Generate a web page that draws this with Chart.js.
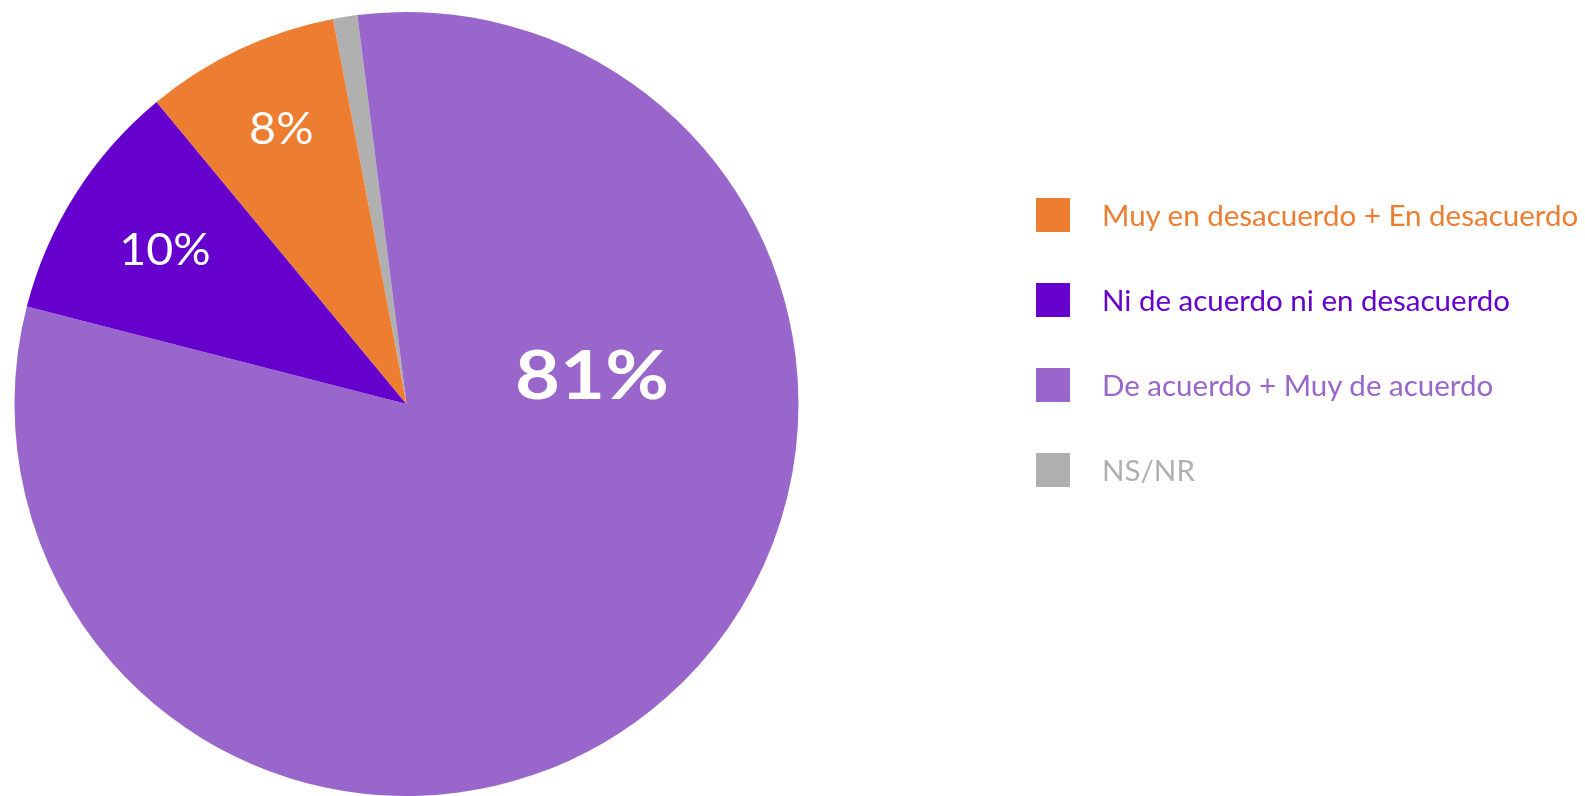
<!DOCTYPE html>
<html>
<head>
<meta charset="utf-8">
<script src="https://cdn.jsdelivr.net/npm/chart.js@4/dist/chart.umd.min.js"></script>
<style>
	html, body { margin: 0; padding: 0; background: #fff; }
	#wrap { position: relative; width: 1585px; height: 796px; }
	#legend { position: absolute; left: 1036px; top: 197px; font-family: Lato, sans-serif; font-size: 29.5px; }
	#legend div { display: flex; align-items: center; height: 35px; margin-bottom: 50px; white-space: nowrap; }
	#legend span.box { display: inline-block; width: 34px; height: 34px; margin-right: 32px; }
</style>
</head>
<body>
<div id="wrap">
	<canvas id="myChart" width="1585" height="796"></canvas>
	<div id="legend"></div>
</div>
<script>
// legend order (the pie runs the other way round)
var categories = ['Muy en desacuerdo + En desacuerdo', 'Ni de acuerdo ni en desacuerdo', 'De acuerdo + Muy de acuerdo', 'NS/NR'];
var values = [8, 10, 81, 1];
var pctLabels = ['8%', '10%', '81%', ''];
var colors = ['#ED7D31', '#6600CC', '#9966CC', '#B0B0B0'];

// where each label sits: angle offset from slice middle (deg), fraction of radius, font, horizontal stretch
var labelPos = [
	{ da: 0.7, r: 0.77, font: '44px Lato', sx: 1.06 },
	{ da: 0, r: 0.73, font: '44px Lato', sx: 1.06 },
	{ da: -56.8, r: 0.478, font: 'bold 67px Lato', sx: 1.16 },
	null
];

// html legend
var leg = document.getElementById('legend');
for (var i = 0; i < categories.length; i++) {
	var row = document.createElement('div');
	row.style.color = colors[i];
	row.innerHTML = '<span class="box" style="background:' + colors[i] + '"></span>' + categories[i];
	leg.appendChild(row);
}

var sliceLabels = {
	id: 'sliceLabels',
	afterDatasetsDraw: function (chart) {
		var ctx = chart.ctx;
		var meta = chart.getDatasetMeta(0);
		var n = values.length;
		meta.data.forEach(function (arc, j) {
			var k = n - 1 - j; // back to legend order
			var p = labelPos[k];
			if (!p || !pctLabels[k]) return;
			var mid = (arc.startAngle + arc.endAngle) / 2 + p.da * Math.PI / 180;
			var x = arc.x + Math.cos(mid) * arc.outerRadius * p.r;
			var y = arc.y + Math.sin(mid) * arc.outerRadius * p.r;
			ctx.save();
			ctx.translate(x, y);
			ctx.scale(p.sx, 1);
			ctx.fillStyle = '#fff';
			ctx.font = p.font;
			ctx.textAlign = 'center';
			ctx.textBaseline = 'middle';
			ctx.fillText(pctLabels[k], 0, 0);
			ctx.restore();
		});
	}
};

const ctx = document.getElementById('myChart');
const myChart = new Chart(ctx, {
	type: 'pie',
	data: {
		labels: categories.slice().reverse(),
		datasets: [{
			data: values.slice().reverse(),
			backgroundColor: colors.slice().reverse(),
			borderWidth: 0
		}]
	},
	options: {
		responsive: false,
		animation: false,
		rotation: -10.8,
		layout: { padding: { left: 14, top: 12, right: 786, bottom: 0 } },
		plugins: {
			legend: { display: false },
			tooltip: { enabled: false }
		}
	},
	plugins: [sliceLabels]
});
</script>
</body>
</html>
